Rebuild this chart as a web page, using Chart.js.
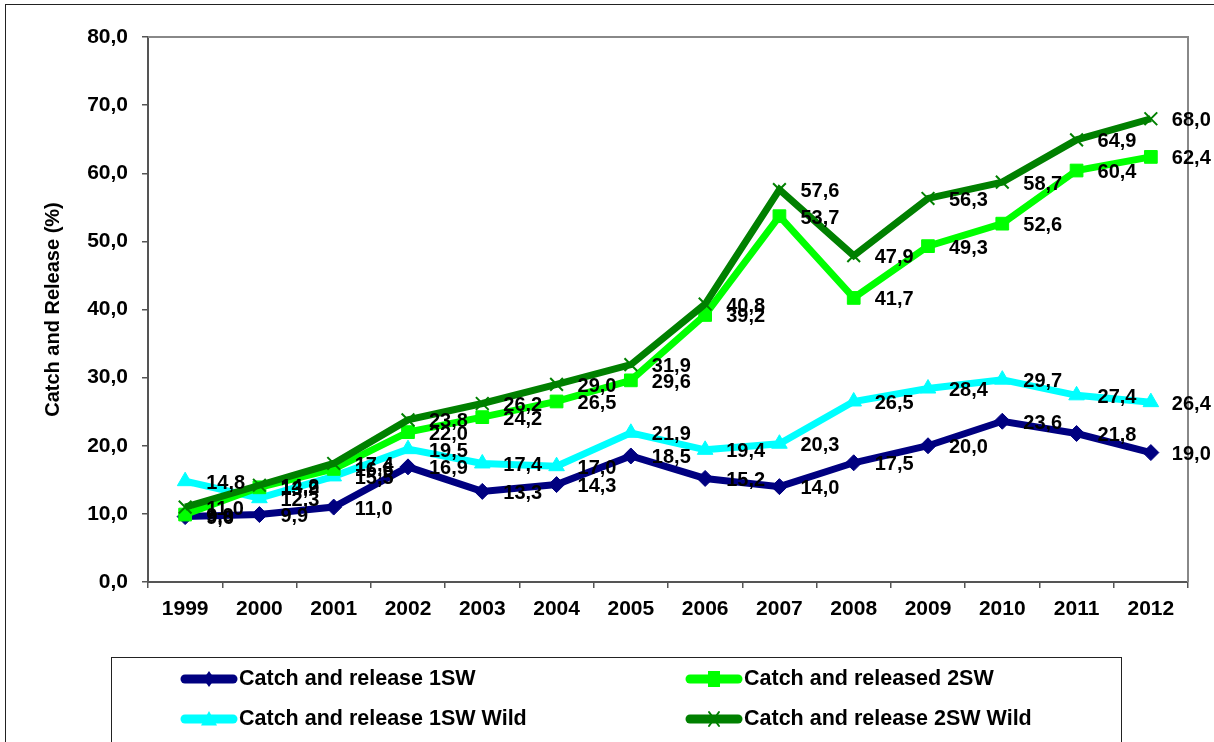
<!DOCTYPE html>
<html>
<head>
<meta charset="utf-8">
<script src="https://cdn.jsdelivr.net/npm/chart.js@4/dist/chart.umd.min.js"></script>
<style>
  html, body { margin: 0; padding: 0; background: #fff; }
  #wrap { position: relative; width: 1214px; height: 742px; overflow: hidden; background: #fff; }
  #frame { position: absolute; left: 5px; top: 4px; width: 1300px; height: 800px; border-left: 1px solid #222; border-top: 1px solid #222; }
  #c { position: absolute; left: 0; top: 0; }
  #legend { position: absolute; left: 111px; top: 657px; width: 1011px; height: 90px; border: 1px solid #222; box-sizing: border-box; }
  .li { position: absolute; display: flex; align-items: center; font: bold 21.5px Arial, "Liberation Sans", sans-serif; color: #000; white-space: nowrap; }
  .li canvas { margin-right: 1px; }
</style>
</head>
<body>
<div id="wrap">
  <div id="frame"></div>
  <canvas id="c" width="1214" height="742"></canvas>
  <div id="legend"></div>
</div>
<script>
const years = ['1999','2000','2001','2002','2003','2004','2005','2006','2007','2008','2009','2010','2011','2012'];
const cr1SW      = [9.6, 9.9, 11.0, 16.9, 13.3, 14.3, 18.5, 15.2, 14.0, 17.5, 20.0, 23.6, 21.8, 19.0];
const cr2SW      = [9.9, 13.9, 16.6, 22.0, 24.2, 26.5, 29.6, 39.2, 53.7, 41.7, 49.3, 52.6, 60.4, 62.4];
const cr1SWWild  = [14.8, 12.3, 15.5, 19.5, 17.4, 17.0, 21.9, 19.4, 20.3, 26.5, 28.4, 29.7, 27.4, 26.4];
const cr2SWWild  = [11.0, 14.2, 17.4, 23.8, 26.2, 29.0, 31.9, 40.8, 57.6, 47.9, 56.3, 58.7, 64.9, 68.0];
const seriesNames = ['Catch and release 1SW', 'Catch and released 2SW', 'Catch and release 1SW Wild', 'Catch and release 2SW Wild'];
const yMin = 0, yMax = 80, yStep = 10;

const FONT = 'Arial, "Liberation Sans", sans-serif';
const fmt = v => Number(v).toFixed(1).replace('.', ',');

const styles = [
  { color: '#000080', pointStyle: 'rectRot', radius: 8, bw: 1, order: 3 },
  { color: '#00FF00', pointStyle: 'rect', radius: 9, bw: 1, order: 2 },
  { color: '#00FFFF', pointStyle: 'triangle', radius: 9, bw: 1, order: 4 },
  { color: '#008000', pointStyle: 'crossRot', radius: 9, bw: 2, order: 1 }
];
const seriesData = [cr1SW, cr2SW, cr1SWWild, cr2SWWild];

const datasets = seriesData.map((d, i) => ({
  label: seriesNames[i],
  data: d,
  borderColor: styles[i].color,
  backgroundColor: styles[i].color,
  pointBackgroundColor: styles[i].color,
  pointBorderColor: styles[i].color,
  pointStyle: styles[i].pointStyle,
  pointRadius: styles[i].radius,
  pointBorderWidth: styles[i].bw,
  pointHoverRadius: styles[i].radius,
  borderWidth: 7,
  tension: 0,
  order: styles[i].order
}));

const frameAndLabels = {
  id: 'frameAndLabels',
  beforeDatasetsDraw(chart) {
    const { ctx, chartArea: a } = chart;
    ctx.save();
    ctx.strokeStyle = '#888';
    ctx.lineWidth = 2;
    ctx.beginPath();
    ctx.moveTo(a.left, a.top);
    ctx.lineTo(a.right, a.top);
    ctx.lineTo(a.right, a.bottom);
    ctx.stroke();
    ctx.restore();
  },
  afterDatasetsDraw(chart) {
    const { ctx } = chart;
    ctx.save();
    ctx.font = 'bold 20px ' + FONT;
    ctx.fillStyle = '#000';
    ctx.textAlign = 'left';
    ctx.textBaseline = 'middle';
    chart.data.datasets.forEach((ds, i) => {
      const meta = chart.getDatasetMeta(i);
      meta.data.forEach((pt, j) => {
        ctx.fillText(fmt(ds.data[j]), pt.x + 21, pt.y + 2);
      });
    });
    ctx.restore();
  }
};

new Chart(document.getElementById('c'), {
  type: 'line',
  data: { labels: years, datasets },
  options: {
    responsive: false,
    animation: false,
    events: [],
    layout: { padding: { left: 20, top: 37, right: 26, bottom: 120 } },
    plugins: { legend: { display: false }, tooltip: { enabled: false } },
    scales: {
      x: {
        offset: true,
        grid: { offset: true, drawOnChartArea: false, drawTicks: true, tickLength: 6, color: '#555', lineWidth: 1.5 },
        border: { color: '#555', width: 2 },
        ticks: { color: '#000', font: { family: FONT, size: 21, weight: 'bold' }, padding: 9, maxRotation: 0, autoSkip: false },
        afterFit(s) { s.height = 40; }
      },
      y: {
        min: yMin, max: yMax,
        grid: { drawOnChartArea: false, drawTicks: true, tickLength: 6, color: '#555', lineWidth: 1.5 },
        border: { color: '#555', width: 2 },
        ticks: { stepSize: yStep, color: '#000', font: { family: FONT, size: 21, weight: 'bold' }, padding: 14, callback: v => fmt(v) },
        title: { display: true, text: 'Catch and Release (%)', color: '#000', font: { family: FONT, size: 20, weight: 'bold' }, padding: { top: 21, bottom: 0 } },
        afterFit(s) { s.width = 128; }
      }
    }
  },
  plugins: [frameAndLabels]
});

// HTML legend
const legendPos = [
  { left: 68, top: 20 },
  { left: 573, top: 20 },
  { left: 68, top: 60 },
  { left: 573, top: 60 }
];
const legend = document.getElementById('legend');
seriesNames.forEach((name, i) => {
  const item = document.createElement('div');
  item.className = 'li';
  item.style.left = legendPos[i].left + 'px';
  item.style.top = (legendPos[i].top - 12) + 'px';
  const cv = document.createElement('canvas');
  cv.width = 58; cv.height = 24;
  const c = cv.getContext('2d');
  const st = styles[i];
  c.strokeStyle = st.color; c.fillStyle = st.color;
  c.lineWidth = 9; c.lineCap = 'round';
  c.beginPath(); c.moveTo(5, 12); c.lineTo(53, 12); c.stroke();
  const x = 29, y = 12, r = 8;
  c.lineWidth = st.bw;
  c.beginPath();
  if (st.pointStyle === 'rectRot') { c.moveTo(x, y - r); c.lineTo(x + r * 0.7, y); c.lineTo(x, y + r); c.lineTo(x - r * 0.7, y); c.closePath(); c.fill(); }
  else if (st.pointStyle === 'rect') { c.fillRect(x - 6, y - 8, 12, 16); }
  else if (st.pointStyle === 'triangle') { c.moveTo(x, y - r); c.lineTo(x + r, y + r * 0.8); c.lineTo(x - r, y + r * 0.8); c.closePath(); c.fill(); }
  else if (st.pointStyle === 'crossRot') { c.moveTo(x - 5, y - 7); c.lineTo(x + 5, y + 7); c.moveTo(x + 5, y - 7); c.lineTo(x - 5, y + 7); c.stroke(); }
  item.appendChild(cv);
  const sp = document.createElement('span');
  sp.textContent = name;
  item.appendChild(sp);
  legend.appendChild(item);
});
</script>
</body>
</html>
